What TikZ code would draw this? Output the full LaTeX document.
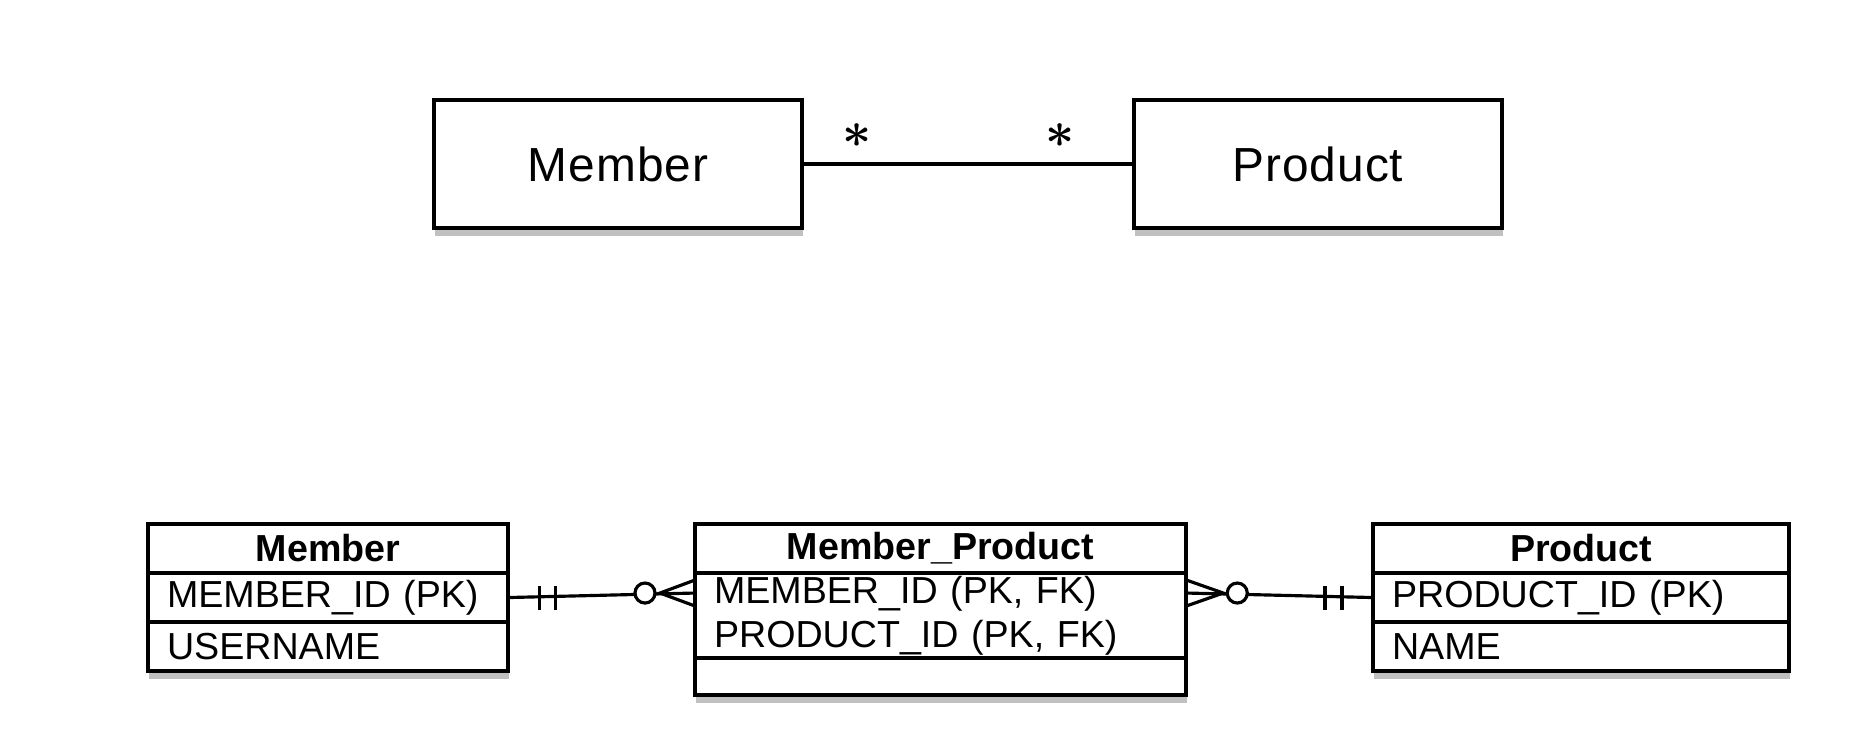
\documentclass[tikz,border=0pt]{standalone}
\usepackage{fontspec}
\setmainfont{Liberation Sans}
\newfontfamily\boxfont[LetterSpace=2]{Liberation Sans}
\usetikzlibrary{calc,shadows}

\tikzset{
  erbox/.style={draw, line width=1.05pt, fill=white, outer sep=0pt,
    drop shadow={shadow xshift=0.3pt, shadow yshift=-2.2pt, opacity=0.45, fill=black!55}},
  classbox/.style={erbox, minimum width=3.68cm, minimum height=1.28cm,
    font=\boxfont\fontsize{13.6}{16}\selectfont},
  tblhead/.style={erbox, anchor=north west, inner sep=0pt, align=center,
    font=\bfseries\fontsize{10.7}{12}\selectfont},
  tblrow/.style={erbox, anchor=north west, inner xsep=0.19cm, inner ysep=0pt, align=left,
    font=\fontsize{10.7}{12.5}\selectfont},
  mult/.style={inner sep=0pt, font=\boldmath\fontsize{14}{16}\selectfont},
  conn/.style={line width=0.9pt},
}

\begin{document}
\begin{tikzpicture}[x=0.01cm, y=-0.01cm]
  \useasboundingbox (0,0) rectangle (1868,754);

  % Object model
  \node[classbox] (mbox) at (618,164) {Member};
  \node[classbox] (pbox) at (1318,164) {Product};
  \draw[conn] (mbox) -- node[mult, pos=0.166, above=0.15cm] (mstar) {$\ast$}
                        node[mult, pos=0.777, above=0.15cm] (pstar) {$\ast$} (pbox);

  % Member table
  \node[tblhead, text width=3.6cm, minimum height=0.49cm] (mhead) at (148,524) {Member};
  \node[tblrow, text width=3.22cm, minimum height=0.49cm] (mid) at (mhead.south west) {MEMBER\_ID (PK)};
  \node[tblrow, text width=3.22cm, minimum height=0.49cm] (mname) at (mid.south west) {USERNAME};

  % Member_Product table
  \node[tblhead, text width=4.91cm, minimum height=0.49cm] (mphead) at (695,524) {Member\_Product};
  \node[tblrow, text width=4.53cm, minimum height=0.85cm] (mprow) at (mphead.south west)
    {MEMBER\_ID (PK, FK)\\PRODUCT\_ID (PK, FK)};
  \node[tblrow, text width=4.53cm, minimum height=0.37cm] (mpempty) at (mprow.south west) {};

  % Product table
  \node[tblhead, text width=4.16cm, minimum height=0.49cm] (phead) at (1373,524) {Product};
  \node[tblrow, text width=3.78cm, minimum height=0.49cm] (pid) at (phead.south west) {PRODUCT\_ID (PK)};
  \node[tblrow, text width=3.78cm, minimum height=0.49cm] (pname) at (pid.south west) {NAME};

  \coordinate (mpleft) at ($(mprow.north west)+(0,20)$);
  \coordinate (mpright) at ($(mprow.north east)+(0,20)$);

  % Member -- Member_Product
  \draw[conn] (mid.east) -- (mpleft);
  \draw[conn] ($(mid.east)+(31,-12)$) -- ++(0,24);
  \draw[conn] ($(mid.east)+(47,-12)$) -- ++(0,24);
  \draw[conn] ($(mpleft)+(0,-13)$) -- ($(mpleft)+(-35,0)$) -- ($(mpleft)+(0,13)$);
  \draw[conn, fill=white] ($(mpleft)+(-50,0)$) circle[radius=0.1cm];

  % Member_Product -- Product
  \draw[conn] (mpright) -- (pid.west);
  \draw[conn] ($(mpright)+(0,-13)$) -- ($(mpright)+(37,0)$) -- ($(mpright)+(0,13)$);
  \draw[conn, fill=white] ($(mpright)+(51,0)$) circle[radius=0.1cm];
  \draw[conn] ($(pid.west)+(-48,-12)$) -- ++(0,24);
  \draw[conn] ($(pid.west)+(-31,-12)$) -- ++(0,24);
\end{tikzpicture}
\end{document}
